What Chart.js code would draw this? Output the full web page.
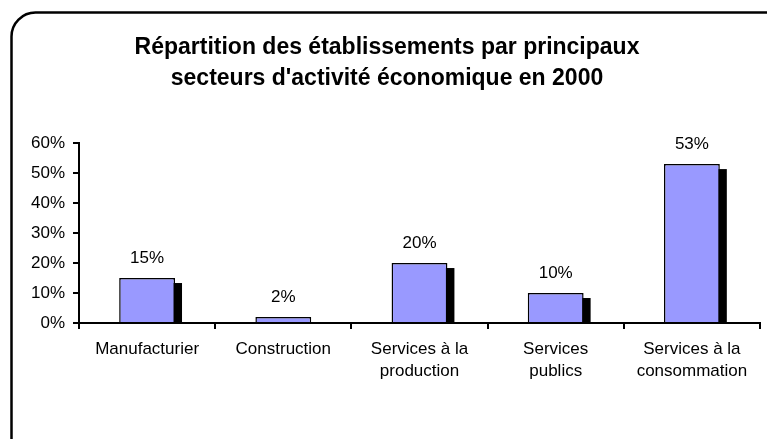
<!DOCTYPE html>
<html>
<head>
<meta charset="utf-8">
<script src="https://cdn.jsdelivr.net/npm/chart.js@4.4.0/dist/chart.umd.min.js"></script>
<style>
  body { margin: 0; background: #fff; }
  #wrap { width: 767px; height: 439px; position: relative; }
</style>
</head>
<body>
<div id="wrap"><canvas id="chartSecteurs"></canvas></div>
<script>
// Etablissements par secteur, 2000 (en %)
const categories = [
    'Manufacturier',
    'Construction',
    ['Services à la', 'production'],
    ['Services', 'publics'],
    ['Services à la', 'consommation']
];
const parts = [15, 2, 20, 10, 53];
const titleLines = [
    'Répartition des établissements par principaux',
    "secteurs d'activité économique en 2000"
];

const FONT = "'Liberation Sans', Arial, sans-serif";

// rounded frame around the whole chart
const framePlugin = {
    id: 'frame',
    beforeDraw(chart) {
        const ctx = chart.ctx;
        ctx.save();
        ctx.fillStyle = '#fff';
        ctx.fillRect(0, 0, chart.width, chart.height);
        ctx.strokeStyle = '#000';
        ctx.lineWidth = 2.5;
        ctx.beginPath();
        ctx.roundRect(11.5, 12.5, 790, 450, 24);
        ctx.stroke();
        ctx.restore();
    }
};

// black drop shadow behind each bar (excel style)
const shadowPlugin = {
    id: 'barShadow',
    beforeDatasetsDraw(chart) {
        const ctx = chart.ctx;
        const meta = chart.getDatasetMeta(0);
        ctx.save();
        ctx.fillStyle = '#000';
        meta.data.forEach((bar) => {
            const p = bar.getProps(['x', 'y', 'base', 'width'], true);
            const h = p.base - p.y - 5;
            if (h > 0) {
                ctx.fillRect(p.x - p.width / 2 + 7, p.y + 5, p.width, h);
            }
        });
        ctx.restore();
    }
};

// value labels above the bars
const labelPlugin = {
    id: 'valueLabels',
    afterDatasetsDraw(chart) {
        const ctx = chart.ctx;
        const meta = chart.getDatasetMeta(0);
        ctx.save();
        ctx.font = '17px ' + FONT;
        ctx.fillStyle = '#000';
        ctx.textAlign = 'center';
        ctx.textBaseline = 'bottom';
        meta.data.forEach((bar, i) => {
            ctx.fillText(parts[i] + '%', bar.x, bar.y - 11);
        });
        ctx.restore();
    }
};

new Chart(document.getElementById('chartSecteurs'), {
    type: 'bar',
    data: {
        labels: categories,
        datasets: [{
            data: parts,
            backgroundColor: '#9999FF',
            borderColor: '#000',
            borderWidth: 1.5,
            barPercentage: 0.41,
            categoryPercentage: 1
        }]
    },
    options: {
        responsive: true,
        maintainAspectRatio: false,
        animation: false,
        layout: { padding: { left: 14, right: 7, top: 0, bottom: 0 } },
        plugins: {
            legend: { display: false },
            tooltip: { enabled: false },
            title: {
                display: true,
                text: titleLines,
                color: '#000',
                font: { family: FONT, size: 23, weight: 'bold', lineHeight: 1.35 },
                padding: { top: 32, bottom: 49 }
            }
        },
        scales: {
            x: {
                afterFit(scale) { scale.height = 116; },
                border: { color: '#000', width: 2 },
                grid: { drawOnChartArea: false, color: '#000', lineWidth: 2, tickLength: 6 },
                ticks: {
                    color: '#000',
                    padding: 9,
                    maxRotation: 0,
                    font: { family: FONT, size: 17, lineHeight: 1.3 }
                }
            },
            y: {
                min: 0,
                max: 60,
                afterFit(scale) { scale.width = 65; },
                border: { color: '#000', width: 2 },
                grid: { drawOnChartArea: false, color: '#000', lineWidth: 2, tickLength: 6 },
                ticks: {
                    stepSize: 10,
                    color: '#000',
                    padding: 8,
                    font: { family: FONT, size: 17 },
                    callback: (v) => v + '%'
                }
            }
        }
    },
    plugins: [framePlugin, shadowPlugin, labelPlugin]
});
</script>
</body>
</html>
